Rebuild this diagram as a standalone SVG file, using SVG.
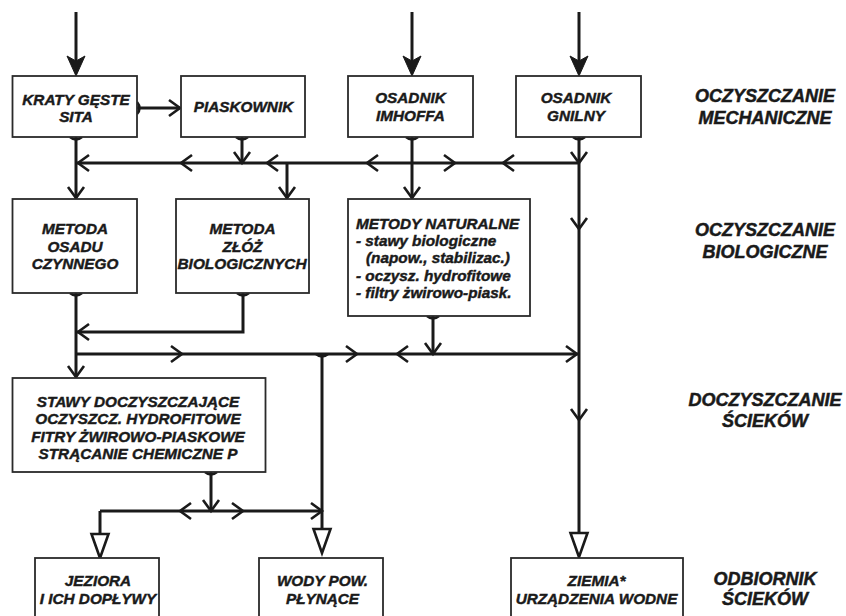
<svg xmlns="http://www.w3.org/2000/svg" xmlns:xlink="http://www.w3.org/1999/xlink" width="846" height="616" viewBox="0 0 846 616">
<style>
.box{fill:#fff;stroke:#2a2a2a;stroke-width:1.8}
.t{font-family:"Liberation Sans",Arial,sans-serif;font-weight:bold;font-style:italic;font-size:15.3px;fill:#1a1a1a;stroke:#1a1a1a;stroke-width:0.45;text-anchor:middle}
.tl{text-anchor:start}
.lab{font-family:"Liberation Sans",Arial,sans-serif;font-weight:bold;font-style:italic;font-size:18px;fill:#1a1a1a;stroke:#1a1a1a;stroke-width:0.5;text-anchor:middle}
.ln{fill:none;stroke:#1a1a1a;stroke-width:3}
.mk{fill:none;stroke:#1a1a1a;stroke-width:2.6;stroke-linejoin:miter}
.fa{fill:#1a1a1a;stroke:#1a1a1a;stroke-width:1}
.oa{fill:#fff;stroke:#1a1a1a;stroke-width:2.6;stroke-linejoin:miter}
</style>
<defs>
<path id="chev" class="mk" d="M-11,-8 L0,0 L-11,8"/>
<path id="tail" class="mk" d="M0,-6 Q5,0 0,6"/>
<path id="fill" class="fa" d="M-9,-20 L0,0 L9,-20 L0,-15 Z"/>
<path id="tri" class="oa" d="M-8.5,-24 L8.5,-24 L0,0 Z"/>
</defs>

<g id="connectors">
<path class="ln" d="M76,12 V70"/>
<path class="ln" d="M412,12 V70"/>
<path class="ln" d="M579,12 V70"/>
<path class="ln" d="M137,108 H180"/>
<path class="ln" d="M76,137 V198"/>
<path class="ln" d="M76,163 H579"/>
<path class="ln" d="M242,137 V163"/>
<path class="ln" d="M287,163 V198"/>
<path class="ln" d="M412,137 V198"/>
<path class="ln" d="M579,137 V535"/>
<path class="ln" d="M76,293 V377"/>
<path class="ln" d="M243,293 V332 H76"/>
<path class="ln" d="M76,354 H579"/>
<path class="ln" d="M433,316 V354"/>
<path class="ln" d="M322,354 V531"/>
<path class="ln" d="M211,472 V511"/>
<path class="ln" d="M100,511 H322"/>
<path class="ln" d="M100,511 V536"/>

<use xlink:href="#fill" transform="translate(76,76)"/>
<use xlink:href="#fill" transform="translate(412,76)"/>
<use xlink:href="#fill" transform="translate(579,76)"/>

<use xlink:href="#tail" transform="translate(137,108)"/>
<use xlink:href="#chev" transform="translate(180,108)"/>

<use xlink:href="#tail" transform="translate(76,137) rotate(90)"/>
<use xlink:href="#chev" transform="translate(76,198) rotate(90)"/>
<use xlink:href="#tail" transform="translate(242,137) rotate(90)"/>
<use xlink:href="#chev" transform="translate(242,163) rotate(90)"/>
<use xlink:href="#chev" transform="translate(287,198) rotate(90)"/>
<use xlink:href="#tail" transform="translate(412,137) rotate(90)"/>
<use xlink:href="#chev" transform="translate(412,198) rotate(90)"/>
<use xlink:href="#tail" transform="translate(579,137) rotate(90)"/>
<use xlink:href="#chev" transform="translate(579,163) rotate(90)"/>
<use xlink:href="#chev" transform="translate(579,229) rotate(90)"/>
<use xlink:href="#chev" transform="translate(579,420) rotate(90)"/>
<use xlink:href="#tri" transform="translate(579,557)"/>

<use xlink:href="#chev" transform="translate(78,163) rotate(180)"/>
<use xlink:href="#chev" transform="translate(181,163) rotate(180)"/>
<use xlink:href="#chev" transform="translate(267,163) rotate(180)"/>
<use xlink:href="#chev" transform="translate(367,163) rotate(180)"/>
<use xlink:href="#chev" transform="translate(455,163)"/>
<use xlink:href="#chev" transform="translate(503,163) rotate(180)"/>

<use xlink:href="#tail" transform="translate(76,293) rotate(90)"/>
<use xlink:href="#chev" transform="translate(76,377) rotate(90)"/>
<use xlink:href="#tail" transform="translate(243,293) rotate(90)"/>
<use xlink:href="#chev" transform="translate(78,332) rotate(180)"/>

<use xlink:href="#chev" transform="translate(182,354)"/>
<use xlink:href="#chev" transform="translate(357,354)"/>
<use xlink:href="#chev" transform="translate(397,354) rotate(180)"/>
<use xlink:href="#chev" transform="translate(577,354)"/>
<use xlink:href="#tail" transform="translate(433,316) rotate(90)"/>
<use xlink:href="#chev" transform="translate(433,354) rotate(90)"/>
<use xlink:href="#tail" transform="translate(322,354) rotate(90)"/>
<use xlink:href="#tri" transform="translate(322,553)"/>

<use xlink:href="#tail" transform="translate(211,472) rotate(90)"/>
<use xlink:href="#chev" transform="translate(211,511) rotate(90)"/>
<use xlink:href="#chev" transform="translate(180,511) rotate(180)"/>
<use xlink:href="#chev" transform="translate(243,511)"/>
<use xlink:href="#chev" transform="translate(322,511)"/>
<use xlink:href="#tri" transform="translate(100,558)"/>
</g>

<g id="kraty"><rect class="box" x="12.5" y="76" width="124.5" height="61"/>
<text class="t" x="76" y="105">KRATY GĘSTE</text><text class="t" x="76" y="122">SITA</text></g>
<g id="piaskownik"><rect class="box" x="181" y="76" width="124" height="61"/>
<text class="t" x="243.5" y="112">PIASKOWNIK</text></g>
<g id="imhoff"><rect class="box" x="348" y="76" width="125" height="61"/>
<text class="t" x="410.5" y="103">OSADNIK</text><text class="t" x="410.5" y="121">IMHOFFA</text></g>
<g id="gnilny"><rect class="box" x="516" y="76" width="125" height="61"/>
<text class="t" x="576" y="103">OSADNIK</text><text class="t" x="576" y="121">GNILNY</text></g>

<g id="osad"><rect class="box" x="12.5" y="199" width="124.5" height="94"/>
<text class="t" x="75" y="234">METODA</text><text class="t" x="75" y="252">OSADU</text><text class="t" x="75" y="269">CZYNNEGO</text></g>
<g id="zloza"><rect class="box" x="176" y="199" width="133" height="94"/>
<text class="t" x="242.5" y="234">METODA</text><text class="t" x="242.5" y="252">ZŁÓŻ</text><text class="t" x="242" y="269" textLength="129" lengthAdjust="spacingAndGlyphs">BIOLOGICZNYCH</text></g>
<g id="naturalne"><rect class="box" x="348" y="199" width="182" height="117"/>
<text class="t tl" x="356" y="229">METODY NATURALNE</text>
<text class="t tl" x="356" y="246">- stawy biologiczne</text>
<text class="t tl" x="366" y="263">(napow., stabilizac.)</text>
<text class="t tl" x="356" y="281">- oczysz. hydrofitowe</text>
<text class="t tl" x="356" y="298">- filtry żwirowo-piask.</text></g>

<g id="stawy"><rect class="box" x="12.5" y="378" width="253" height="94"/>
<text class="t" x="138" y="407">STAWY DOCZYSZCZAJĄCE</text>
<text class="t" x="138" y="424">OCZYSZCZ. HYDROFITOWE</text>
<text class="t" x="138" y="442">FITRY ŻWIROWO-PIASKOWE</text>
<text class="t" x="138" y="459">STRĄCANIE CHEMICZNE P</text></g>

<g id="jeziora"><rect class="box" x="35" y="558" width="124" height="70"/>
<text class="t" x="98" y="586">JEZIORA</text><text class="t" x="98" y="604">I ICH DOPŁYWY</text></g>
<g id="wody"><rect class="box" x="259" y="558" width="124" height="70"/>
<text class="t" x="322.5" y="586">WODY POW.</text><text class="t" x="322.5" y="604">PŁYNĄCE</text></g>
<g id="ziemia"><rect class="box" x="511" y="558" width="172" height="70"/>
<text class="t" x="596.5" y="586">ZIEMIA*</text><text class="t" x="596.5" y="604">URZĄDZENIA WODNE</text></g>

<g id="labels">
<text class="lab" x="765" y="102">OCZYSZCZANIE</text><text class="lab" x="765" y="124">MECHANICZNE</text>
<text class="lab" x="765" y="236">OCZYSZCZANIE</text><text class="lab" x="765" y="258">BIOLOGICZNE</text>
<text class="lab" x="765" y="406">DOCZYSZCZANIE</text><text class="lab" x="765" y="427">ŚCIEKÓW</text>
<text class="lab" x="765" y="585">ODBIORNIK</text><text class="lab" x="765" y="605">ŚCIEKÓW</text>
</g>
</svg>
